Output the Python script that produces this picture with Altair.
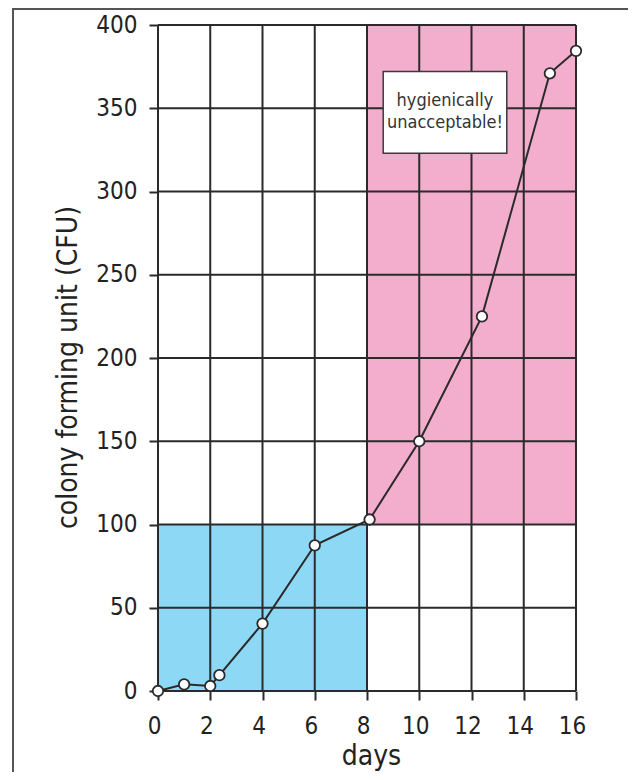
import altair as alt
import pandas as pd

# measured series
days = [0, 1, 2, 2.35, 4, 6, 8.1, 10, 12.4, 15, 16]
cfu = [0, 4, 3, 9.5, 40.5, 87.5, 103, 150, 225, 371, 384.5]

# coloured zones
zone_x = [0, 8]
zone_x2 = [8, 16]
zone_y = [0, 100]
zone_y2 = [100, 400]
zone_name = ["acceptable", "unacceptable"]
zone_color = ["#8dd8f5", "#f3aecd"]

# grid / tick values
x_ticks = [0, 2, 4, 6, 8, 10, 12, 14, 16]
y_ticks = [0, 50, 100, 150, 200, 250, 300, 350, 400]

# annotation
note_lines = ["hygienically", "unacceptable!"]
note_x = [8.62, 13.35]
note_y = [323, 372]

FONT = "DejaVu Sans Condensed, DejaVu Sans"
DARK = "#2a2a2a"

xs = alt.Scale(domain=[0, 16], nice=False, zero=False)
ys = alt.Scale(domain=[0, 400], nice=False, zero=False)

series = pd.DataFrame({"day": days, "cfu": cfu})
zones = pd.DataFrame({"x": zone_x, "x2": zone_x2, "y": zone_y, "y2": zone_y2, "zone": zone_name})
xgrid = pd.DataFrame({"v": x_ticks})
ygrid = pd.DataFrame({"v": y_ticks})
box = pd.DataFrame({"x": [note_x[0]], "x2": [note_x[1]], "y": [note_y[0]], "y2": [note_y[1]],
                    "xc": [(note_x[0] + note_x[1]) / 2], "yc": [(note_y[0] + note_y[1]) / 2],
                    "label": [note_lines]})

zone_layer = alt.Chart(zones).mark_rect().encode(
    x=alt.X("x:Q", scale=xs, axis=alt.Axis(title="days", values=x_ticks, format="d",
                                            labelOffset=-4, labelPadding=14, titlePadding=4,
                                            titleX=213, labelFlush=False)),
    x2="x2",
    y=alt.Y("y:Q", scale=ys, axis=alt.Axis(title="colony forming unit (CFU)", values=y_ticks,
                                            format="d", labelPadding=12, titlePadding=13,
                                            titleY=342)),
    y2="y2",
    color=alt.Color("zone:N", scale=alt.Scale(domain=zone_name, range=zone_color), legend=None),
)

vgrid = alt.Chart(xgrid).mark_rule(color=DARK, strokeWidth=2).encode(x=alt.X("v:Q", scale=xs))
hgrid = alt.Chart(ygrid).mark_rule(color=DARK, strokeWidth=2).encode(y=alt.Y("v:Q", scale=ys))

box_layer = alt.Chart(box).mark_rect(fill="white", stroke="#3a3a3a", strokeWidth=1.5).encode(
    x=alt.X("x:Q", scale=xs), x2="x2", y=alt.Y("y:Q", scale=ys), y2="y2"
)
text_layer = alt.Chart(box).mark_text(
    font=FONT, fontSize=18, color="#333333", lineHeight=22, baseline="middle", align="center", dy=-11
).encode(x=alt.X("xc:Q", scale=xs), y=alt.Y("yc:Q", scale=ys), text="label")

line_layer = alt.Chart(series).mark_line(color=DARK, strokeWidth=2).encode(
    x=alt.X("day:Q", scale=xs), y=alt.Y("cfu:Q", scale=ys)
)
point_layer = alt.Chart(series).mark_point(
    filled=True, fill="white", stroke=DARK, strokeWidth=1.8, size=110, opacity=1
).encode(x=alt.X("day:Q", scale=xs), y=alt.Y("cfu:Q", scale=ys))

# outer frame (decoration)
frame_df = pd.DataFrame({"k": [0]})
frame_left = alt.Chart(frame_df).mark_rule(color="#555555", strokeWidth=2).encode(
    x=alt.value(-145), y=alt.value(-16), y2=alt.value(760)
)
frame_top = alt.Chart(frame_df).mark_rule(color="#555555", strokeWidth=2).encode(
    x=alt.value(-146), x2=alt.value(480), y=alt.value(-16)
)

chart = alt.layer(
    zone_layer, vgrid, hgrid, box_layer, text_layer, line_layer, point_layer, frame_left, frame_top
).properties(
    width=418, height=666,
    autosize=alt.AutoSizeParams(type="none"),
    padding={"left": 150, "top": 17, "right": 52, "bottom": 81},
).configure_view(stroke=None).configure_axis(
    grid=False, domain=False, ticks=True, tickSize=9, tickWidth=2, tickColor=DARK,
    labelFont=FONT, labelFontSize=24, labelColor="#222222",
    titleFont=FONT, titleFontSize=28, titleFontWeight="normal", titleColor="#222222",
)

chart.save("out.html", embed_options={"renderer": "svg", "actions": False})
